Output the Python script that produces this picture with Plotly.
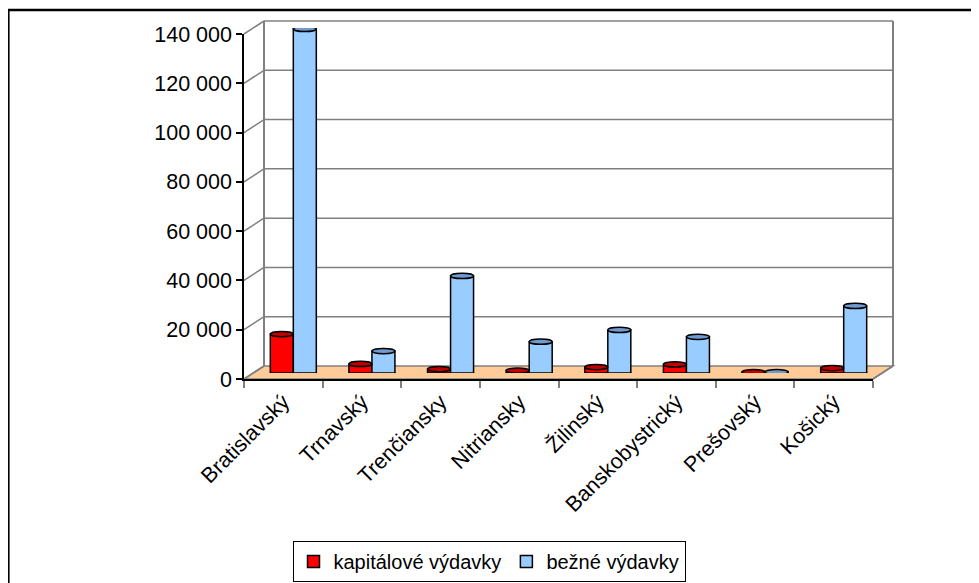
import plotly.graph_objects as go

# data
kraje = ['Bratislavský', 'Trnavský', 'Trenčiansky', 'Nitriansky', 'Žilinský',
         'Banskobystrický', 'Prešovský', 'Košický']
kapitalove = [15800, 3700, 1600, 1000, 2400, 3500, 400, 2000]
bezne = [139600, 8900, 39400, 12700, 17500, 14700, 400, 27200]
y_ticks = [0, 20000, 40000, 60000, 80000, 100000, 120000, 140000]
y_labels = ['0', '20 000', '40 000', '60 000', '80 000', '100 000', '120 000', '140 000']

# page body has an 8px margin -> shift all positions back by it
OFF = 8
W, H = 979, 583
YMAX = 140000
FONT = 'Liberation Sans, Arial, sans-serif'
FS = 21.5


def fx(px):
    return (px - OFF) / W


def fy(py):
    return 1 - (py - OFF) / H


# front plane (axes), back plane (wall) in screen pixels
front_x0, front_x1 = 244, 873
front_y0, front_y1 = 379, 34
dx, dy = 20, -13
mid_dx, mid_dy = 10, -6


def front_y(v):
    return front_y0 - v / YMAX * (front_y0 - front_y1)


fig = go.Figure()

fig.add_trace(go.Bar(x=kraje, y=kapitalove, name='kapitálové výdavky',
                     marker=dict(color='#FF0000', line=dict(color='black', width=1.5)),
                     xaxis='x', yaxis='y'))
fig.add_trace(go.Bar(x=kraje, y=bezne, name='bežné výdavky',
                     marker=dict(color='#99CCFF', line=dict(color='black', width=1.5)),
                     xaxis='x', yaxis='y'))
# empty helper trace so the front axes get drawn
fig.add_trace(go.Scatter(x=[0, len(kraje)], y=[0, YMAX], mode='none', showlegend=False,
                         hoverinfo='skip', xaxis='x2', yaxis='y2'))

shapes = []
grid_col = '#808080'

# floor
floor_path = 'M {} {} L {} {} L {} {} L {} {} Z'.format(
    fx(front_x0), fy(front_y0), fx(front_x1), fy(front_y0),
    fx(front_x1 + dx), fy(front_y0 + dy), fx(front_x0 + dx), fy(front_y0 + dy))
shapes.append(dict(type='path', path=floor_path, xref='paper', yref='paper',
                   fillcolor='#FFCC99', line=dict(color=grid_col, width=1.5), layer='below'))

# back wall gridlines + left wall diagonals
for v in y_ticks:
    yb = front_y(v) + dy
    if v > 0:
        shapes.append(dict(type='line', xref='paper', yref='paper',
                           x0=fx(front_x0 + dx), x1=fx(front_x1 + dx), y0=fy(yb), y1=fy(yb),
                           line=dict(color=grid_col, width=1.5), layer='below'))
    shapes.append(dict(type='line', xref='paper', yref='paper',
                       x0=fx(front_x0), x1=fx(front_x0 + dx), y0=fy(front_y(v)), y1=fy(yb),
                       line=dict(color=grid_col, width=1.5), layer='below'))
# wall edges
for xe in (front_x0 + dx, front_x1 + dx):
    shapes.append(dict(type='line', xref='paper', yref='paper',
                       x0=fx(xe), x1=fx(xe), y0=fy(front_y(0) + dy), y1=fy(front_y(YMAX) + dy),
                       line=dict(color=grid_col, width=2), layer='below'))
shapes.append(dict(type='line', xref='paper', yref='paper',
                   x0=fx(front_x1), x1=fx(front_x1 + dx), y0=fy(front_y0), y1=fy(front_y0 + dy),
                   line=dict(color=grid_col, width=1.5), layer='below'))

# cylinder caps
bargap = 0.415
bw = (1 - bargap) / 2
cap = 2.6 / (front_y0 - front_y1) * YMAX
top_cols = ['#C00000', '#6F9BD1']
for s, (vals, col) in enumerate([(kapitalove, '#FF0000'), (bezne, '#99CCFF')]):
    for i, v in enumerate(vals):
        xa = i - bw + s * bw
        xb = xa + bw
        shapes.append(dict(type='circle', xref='x', yref='y', x0=xa, x1=xb,
                           y0=-cap, y1=cap, fillcolor=col,
                           line=dict(color='black', width=1.5), layer='below'))
        shapes.append(dict(type='circle', xref='x', yref='y', x0=xa, x1=xb,
                           y0=v - cap, y1=v + cap, fillcolor=top_cols[s],
                           line=dict(color='black', width=1.5), layer='above'))

# outer frame (left edge sits at the very left of the figure)
shapes.append(dict(type='line', xref='paper', yref='paper', x0=0.6 / W, x1=0.6 / W,
                   y0=fy(10), y1=-0.1, line=dict(color='black', width=2)))
shapes.append(dict(type='line', xref='paper', yref='paper', x0=0, x1=1.1,
                   y0=fy(10), y1=fy(10), line=dict(color='black', width=2.5)))

fig.update_layout(
    width=W, height=H,
    margin=dict(l=0, r=0, t=0, b=0, autoexpand=False),
    paper_bgcolor='white', plot_bgcolor='rgba(0,0,0,0)',
    barmode='group', bargap=bargap, bargroupgap=0,
    font=dict(family=FONT, size=FS, color='black'),
    shapes=shapes,
    xaxis=dict(domain=[fx(front_x0 + mid_dx), fx(front_x1 + mid_dx)], visible=False,
               range=[-0.5, len(kraje) - 0.5], automargin=False),
    yaxis=dict(domain=[fy(front_y0 + mid_dy), fy(front_y1 + mid_dy)], visible=False,
               range=[0, YMAX], automargin=False),
    xaxis2=dict(domain=[fx(front_x0), fx(front_x1)], anchor='y2', range=[0, len(kraje)],
                tickmode='array', tickvals=[i + 0.5 for i in range(len(kraje))], ticktext=kraje,
                ticks='', tickangle=-45, showgrid=False, zeroline=False, automargin=False,
                showline=True, linecolor='black', linewidth=1.5,
                minor=dict(tickmode='linear', tick0=0, dtick=1, ticks='outside', ticklen=7,
                           tickcolor=grid_col, tickwidth=1.5, showgrid=False),
                tickfont=dict(size=FS)),
    yaxis2=dict(domain=[fy(front_y0), fy(front_y1)], anchor='x2', range=[0, YMAX],
                tickmode='array', tickvals=y_ticks, ticktext=y_labels, automargin=False,
                ticks='outside', ticklen=6, tickcolor='black', tickwidth=1.5,
                showgrid=False, zeroline=False, showline=True, linecolor='black', linewidth=1.5,
                tickfont=dict(size=FS)),
    legend=dict(orientation='h', x=fx(489), xanchor='center', y=fy(541), yanchor='top',
                bordercolor='black', borderwidth=1, bgcolor='white',
                font=dict(size=20), itemwidth=30, traceorder='normal'),
)

fig.write_html('out.html')
